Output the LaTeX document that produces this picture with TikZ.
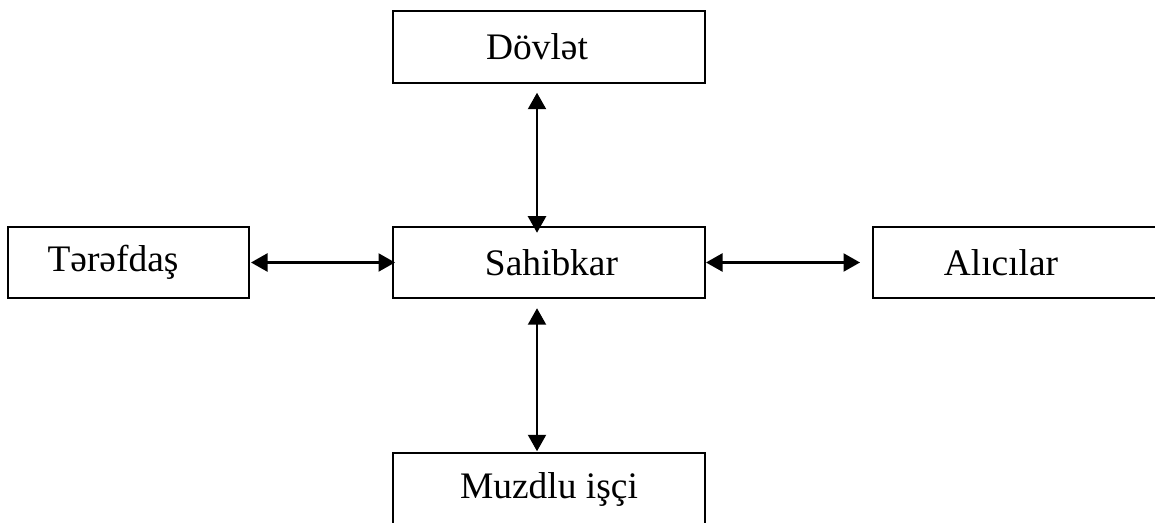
\documentclass[tikz,border=0pt]{standalone}
\usepackage{fontspec}
\setmainfont{Liberation Serif}
\usetikzlibrary{arrows.meta}
\tikzset{box/.style={draw, line width=0.9pt, minimum height=1.43cm, outer sep=0pt, inner sep=0pt, font=\fontsize{21.3}{25}\selectfont},
 link/.style={line width=1.3pt, {Triangle[width=0.36cm,length=0.33cm]}-{Triangle[width=0.36cm,length=0.33cm]}}}

\begin{document}
\begin{tikzpicture}
\useasboundingbox (0,0) rectangle (23.1,-10.46);
\clip (0,0) rectangle (23.1,-10.46);
\node[box, minimum width=6.24cm] (dov) at (10.98,-0.94) {\hspace*{-0.48cm}Dövlət};
\node[box, minimum width=6.24cm] (sah) at (10.98,-5.25) {\hspace*{0.1cm}Sahibkar};
\node[box, minimum width=4.82cm] (ter) at (2.57,-5.25) {\hspace*{-0.62cm}Tərəfdaş};
\node[box, minimum width=5.74cm] (alc) at (20.33,-5.25) {\hspace*{-0.62cm}Alıcılar};
\node[box, minimum width=6.24cm] (muz) at (10.98,-9.78) {Muzdlu işçi};
\draw[link] ([shift={(-0.24,-0.2)}]dov.south) -- ([shift={(-0.24,-0.12)}]sah.north);
\draw[link] ([shift={(-0.24,-0.2)}]sah.south) -- ([shift={(-0.24,0.04)}]muz.north);
\draw[link] ([xshift=0.04cm]ter.east) -- ([xshift=0.04cm]sah.west);
\draw[link] ([xshift=0.02cm]sah.east) -- ([xshift=-0.26cm]alc.west);
\end{tikzpicture}
\end{document}
